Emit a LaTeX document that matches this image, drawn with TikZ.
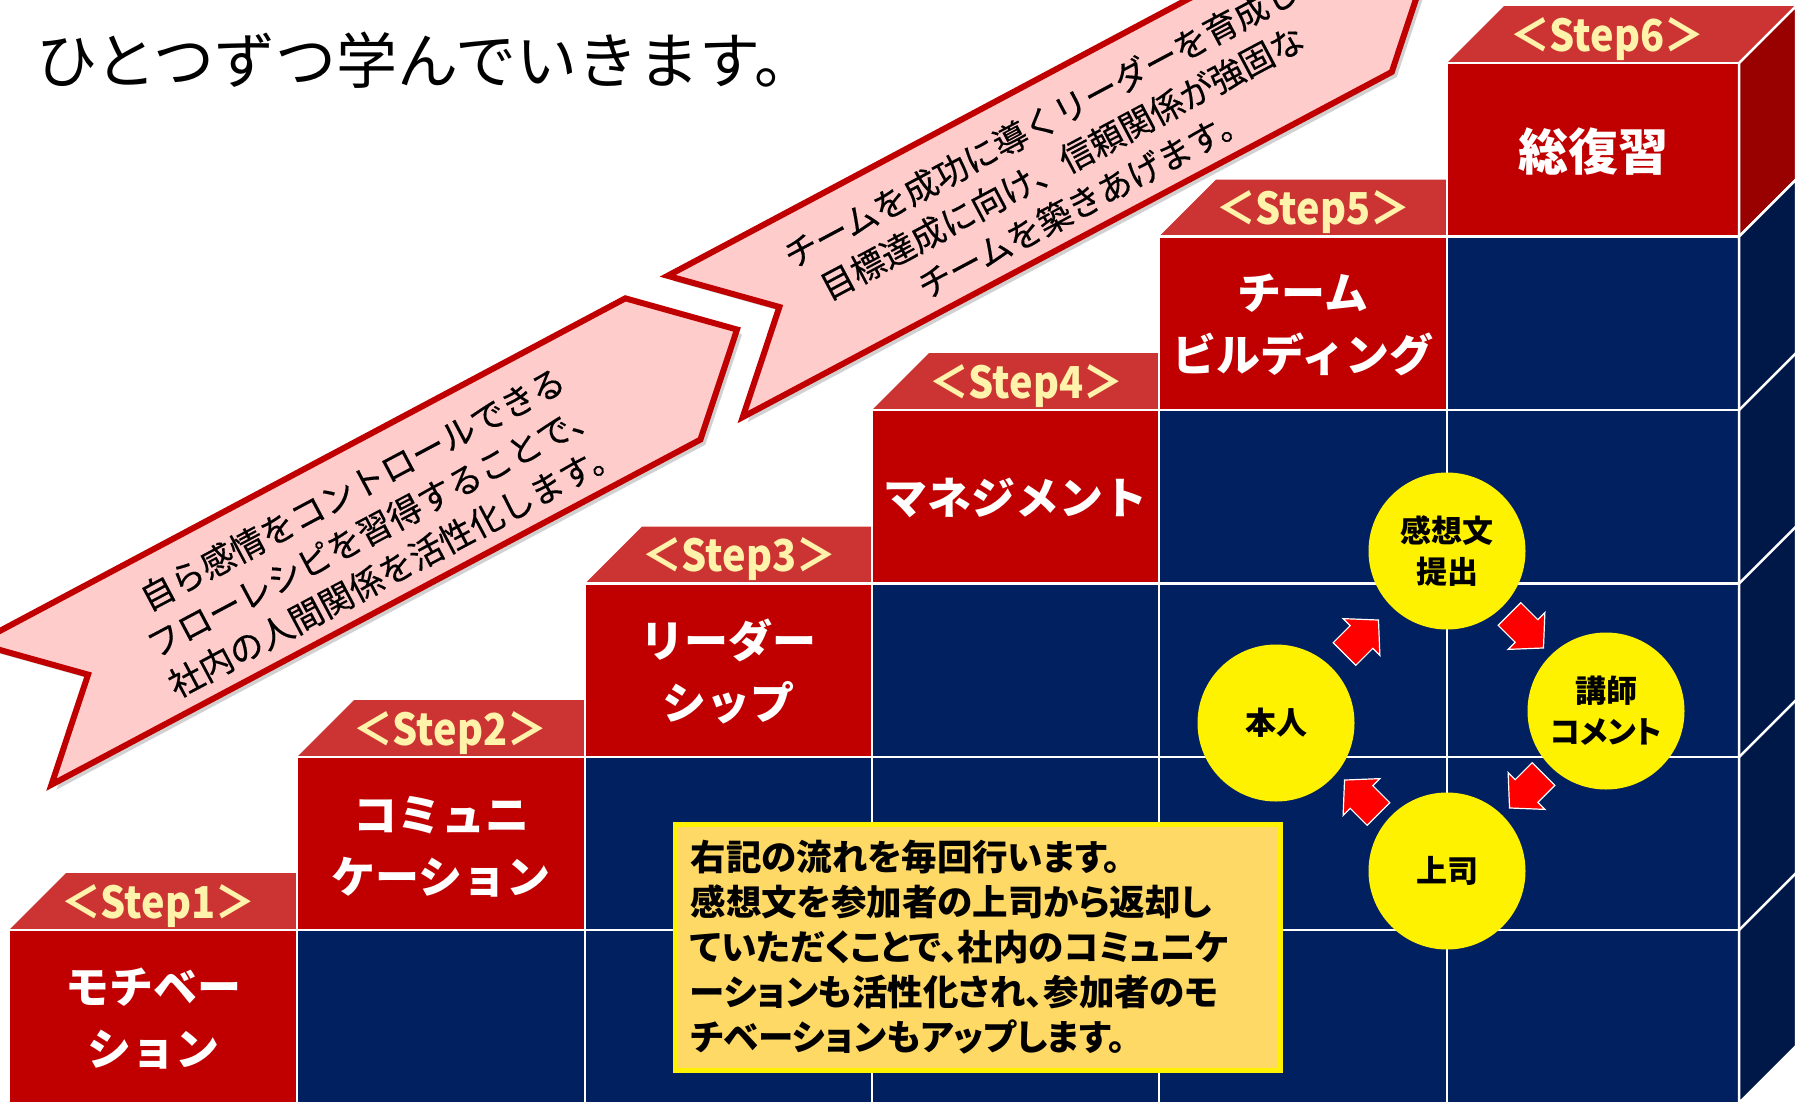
\documentclass[tikz,border=0pt]{standalone}
\usepackage{fontspec}
\newfontfamily\jp{Noto Sans CJK JP}
\newfontfamily\jpp{Noto Sans CJK JP}[RawFeature=+palt]
\newfontfamily\jpm{Noto Sans CJK JP}[FakeBold=0.4]
\usetikzlibrary{calc,shadows}
\definecolor{boxred}{RGB}{192,0,0}
\definecolor{topred}{RGB}{204,51,51}
\definecolor{sidered}{RGB}{153,0,0}
\definecolor{navy}{RGB}{0,32,96}
\definecolor{sidenavy}{RGB}{0,24,72}
\definecolor{labeltext}{RGB}{255,242,170}
\definecolor{bannerfill}{RGB}{255,204,204}
\definecolor{notefill}{RGB}{255,217,102}
\definecolor{arrowred}{RGB}{255,0,0}
\begin{document}
\begin{tikzpicture}[x=1pt,y=-1pt,
  topface/.style={fill=topred},
  frontred/.style={fill=boxred, draw=white, line width=2.5pt},
  frontnavy/.style={fill=navy, draw=white, line width=2.5pt},
  steplabel/.style={font=\jp\bfseries\fontsize{44}{44}\selectfont, text=labeltext, inner sep=0pt, xscale=0.9},
  steptitle/.style={font=\jp\bfseries\fontsize{44}{62}\selectfont, text=white, align=center, inner sep=0pt},
  banner/.style={fill=bannerfill, draw=boxred, line width=6pt, line join=miter,
    drop shadow={shadow xshift=5pt, shadow yshift=-5pt, fill=black!40, opacity=0.45}},
  bannertext/.style={font=\jpm\fontsize{34}{45}\selectfont, align=center, inner sep=0pt, transform shape},
  cyclenode/.style={circle, fill=yellow, minimum size=157pt, inner sep=0pt, align=center,
    font=\jpp\bfseries\fontsize{31}{41}\selectfont},
  notebox/.style={fill=notefill, draw=yellow, line width=5pt, minimum width=605pt, minimum height=246pt,
    text width=575pt, inner xsep=15pt, align=left, font=\jpp\bfseries\fontsize{35.5}{45}\selectfont},
  blockarrow/.pic={\path[fill=arrowred, draw=white, line width=1.2pt]
    (-24,-16) -- (0,-16) -- (0,-26) -- (24,0) -- (0,26) -- (0,16) -- (-24,16) -- cycle;}
]
\useasboundingbox (0,0) rectangle (1800,1101);
\clip (0,0) rectangle (1800,1101);
\fill[white] (0,0) rectangle (1800,1101);

% title
\node[anchor=west, font=\jp\fontsize{61}{61}\selectfont, inner sep=0pt] (title) at (36,60) {ひとつずつ学んでいきます。};

% banners
\begin{scope}[shift={(338.4,541.5)}, rotate=28]
  \path[banner] (-367.5,-80) -- (367.5,-80) -- (451.5,0) -- (367.5,80) -- (-367.5,80) -- (-283.5,0) -- cycle;
  \node[bannertext] (ban1) at (37,5) {自ら感情をコントロールできる\\フローレシピを習得することで、\\社内の人間関係を活性化します。};
\end{scope}
\begin{scope}[shift={(1029.7,173.9)}, rotate=28]
  \path[banner] (-367.5,-80) -- (367.5,-80) -- (451.5,0) -- (367.5,80) -- (-367.5,80) -- (-283.5,0) -- cycle;
  \node[bannertext] (ban2) at (34,5) {チームを成功に導くリーダーを育成し\\目標達成に向け、信頼関係が強固な\\チームを築きあげます。};
\end{scope}

% staircase
\foreach \j in {0,...,5}{
  \pgfmathsetmacro\xa{{9,297,585,872,1159,1447,1739}[\j]}
  \pgfmathsetmacro\xb{{9,297,585,872,1159,1447,1739}[\j+1]}
  \pgfmathsetmacro\yt{{1103,930,757,583.5,410,236.5,63}[\j+1]}
  \pgfmathsetmacro\yb{{1103,930,757,583.5,410,236.5,63}[\j]}
  \fill[topface] (\xa,\yt) -- (\xb,\yt) -- (\xb+57,\yt-57) -- (\xa+57,\yt-57) -- cycle;
  \path[frontred] (\xa,\yt) rectangle (\xb,\yb);
  \ifnum\j>0
    \foreach \r in {1,...,\j}{
      \pgfmathsetmacro\ra{{1103,930,757,583.5,410,236.5,63}[\r]}
      \pgfmathsetmacro\rb{{1103,930,757,583.5,410,236.5,63}[\r-1]}
      \path[frontnavy] (\xa,\ra) rectangle (\xb,\rb);
    }
  \fi
}
% side face
\path[fill=sidered, draw=white, line width=2.5pt] (1739,63) -- (1796,6) -- (1796,179.5) -- (1739,236.5) -- cycle;
\path[fill=sidenavy, draw=white, line width=2.5pt] (1739,236.5) -- (1796,179.5) -- (1796,1046) -- (1739,1103) -- cycle;
\foreach \y in {410,583.5,757,930} \draw[white, line width=2.5pt] (1739,\y) -- (1796,\y-57);

% step labels
\node[steplabel] (l1) at (158,906) {＜Step1＞};
\node[steplabel] (l2) at (450,733) {＜Step2＞};
\node[steplabel] (l3) at (739,559) {＜Step3＞};
\node[steplabel] (l4) at (1026,386) {＜Step4＞};
\node[steplabel] (l5) at (1313,212) {＜Step5＞};
\node[steplabel] (l6) at (1607,39) {＜Step6＞};

% step titles
\node[steptitle] (s1) at (153,1019) {モチベー\\ション};
\node[steptitle] (s2) at (441,847) {コミュニ\\ケーション};
\node[steptitle] (s3) at (728.5,671) {リーダー\\シップ};
\node[steptitle] (s4) at (1015.5,498) {マネジメント};
\node[steptitle] (s5) at (1303,325) {チーム\\ビルディング};
\node[steptitle, font=\jp\bfseries\fontsize{50}{60}\selectfont] (s6) at (1593,152) {総復習};

% note
\node[notebox] (note) at (978,947.4) {右記の流れを毎回行います。\\感想文を参加者の上司から返却し\\ていただくことで、社内のコミュニケ\\ーションも活性化され、参加者のモ\\チベーションもアップします。};

% cycle
\node[cyclenode] (kanso) at (1447,551) {感想文\\提出};
\node[cyclenode] (koushi) at (1606,711) {講師\\コメント};
\node[cyclenode] (joshi) at (1447,871) {上司};
\node[cyclenode] (honin) at (1276,723) {本人};
\pic[rotate=45] at ($(honin)!0.5!(kanso)$) {blockarrow};
\pic[rotate=-45] at ($(kanso)!0.5!(koushi)$) {blockarrow};
\pic[rotate=-135] at ($(koushi)!0.5!(joshi)$) {blockarrow};
\pic[rotate=135] at ($(joshi)!0.5!(honin)$) {blockarrow};
\end{tikzpicture}
\end{document}
